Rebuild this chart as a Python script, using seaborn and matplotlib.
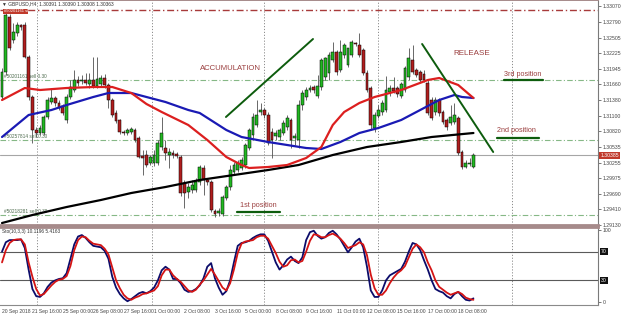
import numpy as np
import pandas as pd
import matplotlib
matplotlib.use("Agg")
import matplotlib.pyplot as plt
import matplotlib.transforms as mtransforms
import seaborn as sns

# ---------------- data (GBPUSD H4) ----------------
opens = [1.31434, 1.31884, 1.32874, 1.32460, 1.32586, 1.32730, 1.32730, 1.32154, 1.31434, 1.30840,
         1.30786, 1.30786, 1.31074, 1.31344, 1.31416, 1.31326, 1.31272, 1.31020, 1.31434, 1.31560,
         1.31740, 1.31722, 1.31740, 1.31668, 1.31740, 1.31632, 1.31668, 1.31776, 1.31650, 1.31380,
         1.31146, 1.31020, 1.30804, 1.30786, 1.30804, 1.30840, 1.30696, 1.30372, 1.30390, 1.30246,
         1.30246, 1.30246, 1.30534, 1.30516, 1.30390, 1.30426, 1.30408, 1.30354, 1.29886, 1.29724,
         1.29760, 1.29760, 1.29904, 1.30156, 1.29940, 1.29904, 1.29382, 1.29346, 1.29328, 1.29616,
         1.29814, 1.30084, 1.30120, 1.30156, 1.30210, 1.30516, 1.30750, 1.30930, 1.31164, 1.31200,
         1.31110, 1.30804, 1.30732, 1.30714, 1.30786, 1.30894, 1.31020, 1.30696, 1.30660, 1.31290,
         1.31434, 1.31560, 1.31614, 1.31452, 1.31614, 1.31794, 1.31866, 1.32100, 1.32244, 1.31920,
         1.32190, 1.32010, 1.32190, 1.32406, 1.32370, 1.32280, 1.31866, 1.31596, 1.30876, 1.31092,
         1.31164, 1.31200, 1.31524, 1.31596, 1.31596, 1.31452, 1.31560, 1.31794, 1.32100, 1.31920,
         1.31884, 1.31848, 1.31686, 1.31380, 1.31164, 1.31380, 1.31164, 1.31020, 1.30966, 1.30984,
         1.31056, 1.30444, 1.30174, 1.30228, 1.30174]
highs = [1.31956, 1.33000, 1.32928, 1.32766, 1.32784, 1.32748, 1.32784, 1.32190, 1.31470, 1.30894,
         1.30930, 1.31110, 1.31434, 1.31596, 1.31452, 1.31380, 1.31308, 1.31488, 1.31740, 1.31920,
         1.31812, 1.31830, 1.31866, 1.31866, 1.32154, 1.32154, 1.31830, 1.31848, 1.31686, 1.31416,
         1.31200, 1.31038, 1.30840, 1.30876, 1.30894, 1.30876, 1.30732, 1.30480, 1.30480, 1.30390,
         1.30480, 1.30660, 1.31074, 1.30660, 1.30516, 1.30480, 1.30444, 1.30390, 1.29940, 1.29886,
         1.29940, 1.29976, 1.30210, 1.30210, 1.29976, 1.29940, 1.29418, 1.29436, 1.29670, 1.29850,
         1.30210, 1.30264, 1.30300, 1.30354, 1.30606, 1.30876, 1.31146, 1.31380, 1.31326, 1.31236,
         1.31164, 1.30876, 1.30840, 1.30876, 1.31020, 1.31110, 1.31056, 1.30786, 1.31380, 1.31560,
         1.31614, 1.31650, 1.31650, 1.31830, 1.32136, 1.32154, 1.32244, 1.32424, 1.32280, 1.32460,
         1.32406, 1.32316, 1.32460, 1.32424, 1.32586, 1.32316, 1.31920, 1.31632, 1.31164, 1.31290,
         1.31380, 1.31812, 1.31650, 1.31794, 1.31632, 1.31704, 1.31992, 1.32316, 1.32370, 1.31956,
         1.31920, 1.31920, 1.31740, 1.31434, 1.31434, 1.31416, 1.31200, 1.31056, 1.31290, 1.31326,
         1.31092, 1.30480, 1.30300, 1.30336, 1.30426]
lows = [1.31380, 1.31830, 1.32280, 1.32406, 1.32532, 1.32640, 1.32136, 1.31380, 1.30606, 1.30714,
        1.30750, 1.30750, 1.31038, 1.31308, 1.31272, 1.31200, 1.31110, 1.30966, 1.31398, 1.31524,
        1.31632, 1.31668, 1.31650, 1.31596, 1.31596, 1.31596, 1.31632, 1.31596, 1.31236, 1.31074,
        1.30966, 1.30768, 1.30750, 1.30750, 1.30768, 1.30624, 1.30336, 1.30030, 1.30174, 1.30210,
        1.30192, 1.30210, 1.30480, 1.30300, 1.30156, 1.30336, 1.30336, 1.29652, 1.29436, 1.29616,
        1.29706, 1.29724, 1.29850, 1.29670, 1.29850, 1.29364, 1.29274, 1.29292, 1.29292, 1.29580,
        1.29760, 1.30030, 1.30084, 1.30120, 1.30156, 1.30480, 1.30696, 1.30894, 1.31110, 1.31056,
        1.30570, 1.30336, 1.30660, 1.30660, 1.30750, 1.30840, 1.30516, 1.30570, 1.30516, 1.31200,
        1.31380, 1.31524, 1.31506, 1.31416, 1.31560, 1.31740, 1.31740, 1.32064, 1.31830, 1.31884,
        1.32136, 1.31974, 1.32154, 1.32352, 1.32154, 1.31830, 1.31524, 1.30840, 1.30804, 1.31056,
        1.31110, 1.31164, 1.31452, 1.31506, 1.31434, 1.31416, 1.31524, 1.31740, 1.31848, 1.31794,
        1.31704, 1.31704, 1.31110, 1.31020, 1.31110, 1.31092, 1.30948, 1.30840, 1.30930, 1.30948,
        1.30390, 1.30138, 1.30156, 1.30192, 1.30156]
closes = [1.31884, 1.32910, 1.32316, 1.32604, 1.32730, 1.32694, 1.32154, 1.31434, 1.30840, 1.30786,
          1.30876, 1.31074, 1.31380, 1.31416, 1.31326, 1.31236, 1.31146, 1.31434, 1.31614, 1.31740,
          1.31686, 1.31740, 1.31686, 1.31740, 1.31632, 1.31758, 1.31776, 1.31650, 1.31380, 1.31110,
          1.31002, 1.30804, 1.30786, 1.30840, 1.30858, 1.30660, 1.30354, 1.30336, 1.30210, 1.30354,
          1.30390, 1.30606, 1.30786, 1.30426, 1.30444, 1.30390, 1.30372, 1.29706, 1.29706, 1.29814,
          1.29850, 1.29904, 1.30174, 1.29940, 1.29904, 1.29400, 1.29328, 1.29382, 1.29634, 1.29814,
          1.30120, 1.30210, 1.30246, 1.30300, 1.30570, 1.30840, 1.31074, 1.31110, 1.31200, 1.31110,
          1.30606, 1.30660, 1.30786, 1.30840, 1.30966, 1.31056, 1.30660, 1.30732, 1.31290, 1.31506,
          1.31560, 1.31596, 1.31560, 1.31632, 1.32100, 1.32136, 1.32190, 1.32244, 1.31884, 1.32244,
          1.32370, 1.32316, 1.32424, 1.32388, 1.32190, 1.31866, 1.31560, 1.30930, 1.31110, 1.31200,
          1.31326, 1.31560, 1.31596, 1.31542, 1.31488, 1.31668, 1.31956, 1.32136, 1.31884, 1.31830,
          1.31740, 1.31740, 1.31146, 1.31056, 1.31380, 1.31146, 1.30984, 1.30894, 1.31074, 1.31110,
          1.30426, 1.30174, 1.30246, 1.30246, 1.30390]

# moving averages (bar index -> value)
ma_red_bars = [0, 6, 10, 17, 24, 29, 34, 38, 42, 49, 54, 59, 63, 65, 70, 75, 80, 84, 87, 90, 94, 98, 105, 112, 115, 120, 124]
ma_red_vals = [1.31380, 1.31596, 1.31560, 1.31596, 1.31614, 1.31614, 1.31506, 1.31308, 1.31164, 1.30930,
               1.30660, 1.30354, 1.30210, 1.30156, 1.30174, 1.30210, 1.30336, 1.30534, 1.30930, 1.31164,
               1.31326, 1.31434, 1.31560, 1.31740, 1.31776, 1.31650, 1.31416]
ma_blue_bars = [0, 7, 13, 17, 24, 28, 34, 38, 43, 49, 52, 59, 63, 70, 75, 80, 84, 89, 94, 99, 105, 110, 115, 119, 121, 124]
ma_blue_vals = [1.30714, 1.31110, 1.31200, 1.31290, 1.31434, 1.31506, 1.31506, 1.31434, 1.31344, 1.31200,
                1.31146, 1.30840, 1.30714, 1.30624, 1.30570, 1.30516, 1.30498, 1.30624, 1.30786, 1.30876,
                1.31020, 1.31200, 1.31380, 1.31470, 1.31434, 1.31416]
ma_black_bars = [0, 8, 17, 26, 34, 43, 52, 61, 70, 78, 87, 96, 105, 113, 124]
ma_black_vals = [1.29166, 1.29310, 1.29454, 1.29580, 1.29706, 1.29814, 1.29940, 1.30030, 1.30120, 1.30210,
                 1.30390, 1.30534, 1.30624, 1.30714, 1.30786]

# stochastic (10,3,3)
stoch_k = [70, 83, 86, 86, 86, 87, 75, 45, 18, 8, 7, 12, 21, 27, 30, 32, 33, 40, 60, 80,
           91, 93, 89, 83, 78, 77, 76, 71, 60, 35, 20, 11, 5, 1, 4, 8, 12, 14, 12, 15,
           20, 30, 44, 49, 45, 32, 32, 26, 17, 14, 15, 18, 23, 33, 49, 54, 33, 20, 10, 15,
           30, 55, 78, 82, 83, 85, 89, 92, 94, 94, 85, 70, 55, 45, 51, 59, 63, 57, 54, 62,
           86, 97, 99, 92, 88, 90, 96, 99, 94, 87, 78, 69, 76, 84, 88, 76, 49, 16, 7, 7,
           16, 30, 37, 40, 43, 46, 56, 70, 82, 80, 72, 58, 45, 30, 18, 15, 13, 8, 5, 11,
           14, 8, 3, 2, 5]
stoch_d = [55, 72, 82, 86, 87, 87, 80, 55, 35, 18, 9, 11, 17, 23, 28, 31, 32, 36, 50, 72,
           86, 91, 90, 85, 81, 80, 79, 74, 66, 48, 30, 19, 10, 5, 3, 6, 8, 11, 12, 14,
           16, 22, 37, 45, 45, 37, 32, 28, 22, 16, 14, 17, 24, 30, 38, 46, 38, 29, 20, 16,
           26, 45, 68, 81, 84, 85, 86, 90, 92, 92, 88, 78, 68, 56, 49, 51, 58, 59, 55, 57,
           70, 85, 94, 93, 90, 90, 93, 95, 92, 88, 82, 75, 77, 79, 83, 80, 65, 38, 19, 10,
           10, 16, 26, 34, 40, 44, 50, 62, 74, 80, 76, 69, 55, 44, 30, 21, 17, 13, 10, 12,
           14, 11, 6, 4, 3]
stoch_levels = [30, 70]

date_labels = ["20 Sep 2018", "21 Sep 16:00", "25 Sep 00:00", "26 Sep 08:00", "27 Sep 16:00",
               "1 Oct 00:00", "2 Oct 08:00", "3 Oct 16:00", "5 Oct 00:00", "8 Oct 08:00",
               "9 Oct 16:00", "11 Oct 00:00", "12 Oct 08:00", "15 Oct 16:00", "17 Oct 00:00",
               "18 Oct 08:00"]
price_ticks = [1.33070, 1.32790, 1.32505, 1.32225, 1.31945, 1.31660, 1.31380, 1.31100,
               1.30820, 1.30535, 1.30255, 1.29975, 1.29690, 1.29410, 1.29130]

sl_level = 1.33000
order_levels = [1.31740, 1.30660, 1.29310]
order_labels = ["#50201161 sell 0.30", "#50257814 sell 0.30", "#50218281 sell 0.30"]
current_price = 1.30385

trend1_x = [58.9, 81.8]
trend1_y = [1.31074, 1.32478]
trend2_x = [110.5, 129.2]
trend2_y = [1.32388, 1.30444]

# ---------------- style ----------------
sns.set_theme(style="white")
plt.rcParams["font.family"] = ["Liberation Sans", "DejaVu Sans"]

fig = plt.figure(figsize=(6.25, 3.17), dpi=100)
ax = fig.add_axes([0.0, 0.2902, 0.957, 0.7098])
ax2 = fig.add_axes([0.0, 0.0379, 0.957, 0.2460])

n = len(opens)
idx = np.arange(n)
o = np.array(opens); h = np.array(highs); l = np.array(lows); c = np.array(closes)

x_lo, x_hi = -0.53, 156.8
grid_x = [9.2, 39.5, 68.9, 98.9, 134.2]

for a in (ax, ax2):
    a.set_xlim(x_lo, x_hi)
    a.set_facecolor("white")
    for gx in grid_x:
        a.axvline(gx, color="#8c8c8c", lw=0.7, ls=(0, (1.2, 1.8)), zorder=0)

# ---- main panel ----
ax.set_ylim(1.2913, 1.3318)
ax.axhline(sl_level, color="#a83a3a", lw=1.0, ls=(0, (5, 2, 1, 2)), zorder=1)
for lvl, lab in zip(order_levels, order_labels):
    ax.axhline(lvl, color="#86b886", lw=0.8, ls=(0, (5, 2, 1, 2)), zorder=1)
    ax.text(0.6, lvl + 0.00012, lab, fontsize=3.4, color="#4d6b4d", va="bottom", ha="left")
ax.axhline(current_price, color="#a6a6a6", lw=0.8, zorder=1)

# candles
ax.vlines(idx, l, h, color="#505050", lw=0.6, zorder=2)
up = c >= o
body_bottom = np.minimum(o, c)
body_h = np.maximum(np.abs(c - o), 0.00005)
colors = np.where(up, "#22b822", "#b01e1e")
ax.bar(idx, body_h, bottom=body_bottom, width=0.74, color=colors, edgecolor="black",
       linewidth=0.35, zorder=3)

# moving averages
ma_df = pd.concat([
    pd.DataFrame({"bar": ma_black_bars, "value": ma_black_vals, "ma": "black"}),
    pd.DataFrame({"bar": ma_blue_bars, "value": ma_blue_vals, "ma": "blue"}),
    pd.DataFrame({"bar": ma_red_bars, "value": ma_red_vals, "ma": "red"}),
])
sns.lineplot(data=ma_df, x="bar", y="value", hue="ma",
             palette={"black": "#000000", "blue": "#1a1ab4", "red": "#dc1f1f"},
             lw=1.6, legend=False, ax=ax, zorder=4, estimator=None, sort=True)

# trend lines
sns.lineplot(x=trend1_x, y=trend1_y, color="#0d5c0d", lw=1.4, ax=ax, zorder=5)
sns.lineplot(x=trend2_x, y=trend2_y, color="#0d5c0d", lw=1.4, ax=ax, zorder=5)

# annotations
ann_col = "#9b3f3f"
ax.text(52.1, 1.31956, "ACCUMULATION", fontsize=5.6, color=ann_col, va="center", ha="left")
ax.text(118.7, 1.32226, "RELEASE", fontsize=5.8, color=ann_col, va="center", ha="left")
pos_specs = [("1st position", 62.6, 1.29490, 61.8, 73.2, 1.29364),
             ("2nd position", 130.3, 1.30840, 130.3, 141.3, 1.30696),
             ("3rd position", 132.1, 1.31848, 132.1, 142.4, 1.31740)]
for lab, tx, ty, ux0, ux1, uy in pos_specs:
    ax.text(tx, ty, lab, fontsize=5.2, color=ann_col, va="center", ha="left")
    ax.plot([ux0, ux1], [uy, uy], color="#0d5c0d", lw=1.6, zorder=5)

# header
ax.text(0.003, 0.995, "\u25bc GBPUSD,H4  1.30391 1.30390 1.30308 1.30363", transform=ax.transAxes,
        fontsize=3.5, color="#333333", va="top", ha="left")
ax.text(0.006, 0.958, "#50201161 sl", transform=ax.transAxes, fontsize=3.0, color="white",
        va="top", ha="left", bbox=dict(boxstyle="square,pad=0.15", fc="#c0392b", ec="none"))

ax.yaxis.tick_right()
ax.set_yticks(price_ticks)
ax.set_yticklabels([f"{t:.5f}" for t in price_ticks])
ax.tick_params(axis="y", which="both", right=True, length=2, width=0.5, labelsize=3.7,
               pad=1.5, colors="#444444")
ax.set_xticks([])
ax.set_xlabel(""); ax.set_ylabel("")

trans = mtransforms.blended_transform_factory(ax.transAxes, ax.transData)
ax.text(1.004, current_price, "1.30385", transform=trans, fontsize=3.7, color="white",
        va="center", ha="left", bbox=dict(boxstyle="square,pad=0.2", fc="#c0392b", ec="none"),
        clip_on=False, zorder=10)

ax.spines["left"].set_visible(False)
ax.spines["top"].set_color("#a68a8a"); ax.spines["top"].set_linewidth(1.4)
ax.spines["bottom"].set_color("#a68a8a"); ax.spines["bottom"].set_linewidth(2.0)
ax.spines["right"].set_color("#7a7a7a"); ax.spines["right"].set_linewidth(0.8)

# ---- stochastic panel ----
ax2.set_ylim(-4.2, 104.2)
for lv in stoch_levels:
    ax2.axhline(lv, color="#5a5a5a", lw=0.8, zorder=1)
st_df = pd.DataFrame({"bar": idx, "K": stoch_k, "D": stoch_d})
sns.lineplot(data=st_df, x="bar", y="K", color="#0c0c6a", lw=1.3, ax=ax2, zorder=3)
sns.lineplot(data=st_df, x="bar", y="D", color="#d41414", lw=1.3, ax=ax2, zorder=4)
ax2.text(0.003, 0.97, "Sto(10,3,3) 10.1196 5.4163", transform=ax2.transAxes, fontsize=3.4,
         color="#333333", va="top", ha="left")

ax2.yaxis.tick_right()
ax2.set_yticks([0, 100])
ax2.set_yticklabels(["0", "100"])
ax2.tick_params(axis="y", length=2, width=0.5, labelsize=3.7, pad=1.5, colors="#444444")
trans2 = mtransforms.blended_transform_factory(ax2.transAxes, ax2.transData)
for lv in stoch_levels:
    ax2.text(1.005, lv, str(lv), transform=trans2, fontsize=3.7, color="white", va="center",
             ha="left", bbox=dict(boxstyle="square,pad=0.15", fc="#111111", ec="none"),
             clip_on=False)

ax2.set_xticks(np.arange(0, 8 * len(date_labels), 8))
ax2.set_xticklabels(date_labels)
ax2.tick_params(axis="x", length=2, width=0.5, labelsize=3.6, pad=1.0, colors="#444444")
plt.setp(ax2.get_xticklabels(), ha="left")
ax2.set_xlabel(""); ax2.set_ylabel("")
ax2.spines["left"].set_visible(False)
ax2.spines["top"].set_color("#a68a8a"); ax2.spines["top"].set_linewidth(2.0)
ax2.spines["bottom"].set_color("#8a8a8a"); ax2.spines["bottom"].set_linewidth(0.8)
ax2.spines["right"].set_color("#7a7a7a"); ax2.spines["right"].set_linewidth(0.8)

fig.savefig("out.png", dpi=100, facecolor="white")
